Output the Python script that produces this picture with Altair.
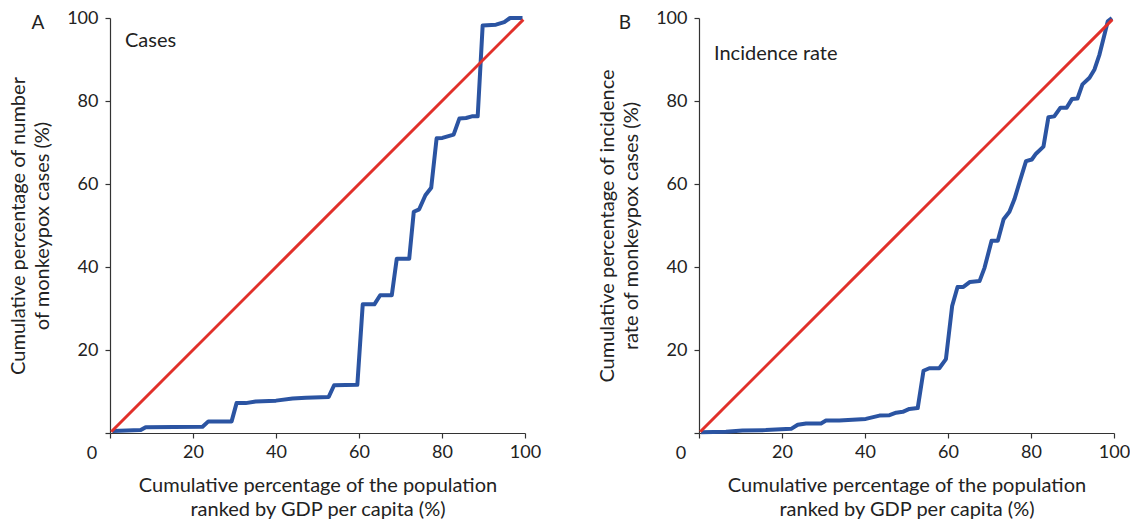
import altair as alt
import pandas as pd

# Panel A: cumulative % of cases vs cumulative % of population (ranked by GDP per capita)
cases_x = [0.6, 7.4, 8.6, 22.3, 23.7, 29.3, 30.5, 32.7, 35.1, 40.0, 44.0, 47.2, 52.7, 54.0,
           59.6, 60.9, 63.7, 65.1, 67.9, 69.1, 72.1, 73.2, 74.5, 76.0, 77.4, 78.7, 80.1,
           82.8, 84.2, 85.8, 87.2, 88.6, 89.8, 93.0, 95.0, 96.4, 99.4]
cases_y = [0.5, 0.7, 1.4, 1.5, 2.8, 2.8, 7.2, 7.2, 7.6, 7.8, 8.3, 8.5, 8.7, 11.5,
           11.6, 31.0, 31.0, 33.2, 33.2, 42.0, 42.0, 53.3, 53.9, 57.3, 59.1, 71.0, 71.1,
           71.9, 75.8, 75.9, 76.3, 76.3, 98.2, 98.4, 99.0, 100.0, 100.0]

# Panel B: cumulative % of incidence rate
rate_x = [0.5, 6.5, 10.5, 16.1, 22.2, 23.8, 25.8, 29.4, 30.6, 33.8, 37.0, 40.2, 43.5, 45.9,
          47.5, 49.1, 50.7, 52.7, 54.1, 55.5, 57.9, 59.5, 61.0, 62.3, 63.7, 65.3, 67.6,
          68.8, 70.5, 72.0, 73.4, 74.8, 76.0, 77.2, 78.8, 80.2, 81.2, 83.0, 84.2, 85.6,
          87.1, 88.6, 89.9, 91.2, 92.4, 94.1, 95.3, 96.5, 97.5, 98.5, 99.5]
rate_y = [0.2, 0.3, 0.6, 0.7, 1.0, 2.0, 2.3, 2.3, 3.0, 3.0, 3.2, 3.4, 4.2, 4.3,
          4.9, 5.1, 5.8, 6.0, 15.0, 15.6, 15.6, 17.8, 30.6, 35.2, 35.2, 36.4, 36.6,
          39.8, 46.3, 46.3, 51.5, 53.3, 56.3, 60.3, 65.5, 65.9, 67.3, 69.0, 76.1, 76.3,
          78.4, 78.4, 80.5, 80.6, 84.0, 85.6, 87.6, 91.2, 95.2, 99.2, 100.0]

# Line of equality
equal_x = [0.3, 99.6]
equal_y = [0.3, 99.6]

tick_values = [0, 20, 40, 60, 80, 100]
x_title = ["Cumulative percentage of the population", "ranked by GDP per capita (%)"]
y_title_a = ["Cumulative percentage of number", "of monkeypox cases (%)"]
y_title_b = ["Cumulative percentage of incidence", "rate of monkeypox cases (%)"]
panel_letters = ["A", "B"]
inset_labels = ["Cases", "Incidence rate"]
corner_label = "0"

FONT = "Lato"
W = 415
H = 415
BLUE = "#2b54a2"
RED = "#e1302a"
AXIS_COLOR = "#333333"
TEXT_COLOR = "#222222"


def panel(xs, ys, ytitle, letter, inset, inset_y, letter_dx):
    curve = pd.DataFrame({"x": xs, "y": ys, "o": list(range(len(xs)))})
    eq = pd.DataFrame({"x": equal_x, "y": equal_y})
    xscale = alt.Scale(domain=[0, 100], nice=False, zero=False)
    yscale = alt.Scale(domain=[0, 100], nice=False, zero=False)
    xaxis = alt.Axis(values=tick_values, title=x_title,
                     labelExpr="datum.value == 0 ? '' : datum.label",
                     grid=False, tickSize=5, labelPadding=5, titlePadding=14,
                     titleLineHeight=24, labelFlush=False)
    yaxis = alt.Axis(values=tick_values, title=ytitle,
                     labelExpr="datum.value == 0 ? '' : datum.label",
                     grid=False, tickSize=5, labelPadding=7, titlePadding=14,
                     titleLineHeight=24, labelFlush=False)
    blue = alt.Chart(curve).mark_line(color=BLUE, strokeWidth=4, strokeJoin="round").encode(
        x=alt.X("x:Q", scale=xscale, axis=xaxis),
        y=alt.Y("y:Q", scale=yscale, axis=yaxis),
        order="o:Q",
    )
    red = alt.Chart(eq).mark_line(color=RED, strokeWidth=3).encode(
        x=alt.X("x:Q", scale=xscale),
        y=alt.Y("y:Q", scale=yscale),
    )
    txt = pd.DataFrame({"letter": [letter], "inset": [inset], "zero": [corner_label]})
    letter_mark = alt.Chart(txt).mark_text(font=FONT, fontSize=19, color=TEXT_COLOR,
                                           align="center", baseline="middle").encode(
        text="letter:N", x=alt.value(letter_dx), y=alt.value(5))
    inset_mark = alt.Chart(txt).mark_text(font=FONT, fontSize=20, color=TEXT_COLOR,
                                          align="left", baseline="middle").encode(
        text="inset:N", x=alt.value(15), y=alt.value(inset_y))
    zero_mark = alt.Chart(txt).mark_text(font=FONT, fontSize=18, color=TEXT_COLOR,
                                         align="center", baseline="middle").encode(
        text="zero:N", x=alt.value(-18), y=alt.value(H + 21))
    return alt.layer(blue, red, letter_mark, inset_mark, zero_mark).properties(width=W, height=H)


pa = panel(cases_x, cases_y, y_title_a, panel_letters[0], inset_labels[0], 23, -72)
pb = panel(rate_x, rate_y, y_title_b, panel_letters[1], inset_labels[1], 36, -74)

chart = alt.hconcat(pa, pb, spacing=174, bounds="flush").properties(
    padding={"left": 0, "top": 1, "right": 0, "bottom": 0}
).configure_view(stroke=None).configure_axis(
    domainColor=AXIS_COLOR, tickColor=AXIS_COLOR, domainWidth=1.2, tickWidth=1.2,
    labelFont=FONT, titleFont=FONT, labelFontSize=18, titleFontSize=20,
    labelColor=TEXT_COLOR, titleColor=TEXT_COLOR, titleFontWeight="normal",
)

chart.save("out.html", embed_options={"renderer": "svg", "actions": False})
